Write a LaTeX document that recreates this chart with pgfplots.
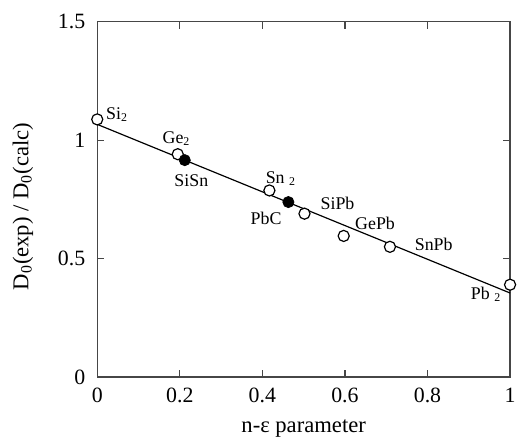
\documentclass[border=0pt]{standalone}
\usepackage{fontspec}
\setmainfont{Liberation Serif}
\usepackage{pgfplots}
\pgfplotsset{compat=1.18}
\definecolor{axisgray}{RGB}{70,70,70}

\begin{document}
\begin{tikzpicture}
\begin{axis}[
  scale only axis,
  width=208pt, height=179pt,
  xmin=0, xmax=1, ymin=0, ymax=1.5,
  xtick={0,0.2,0.4,0.6,0.8,1},
  ytick={0,0.5,1,1.5},
  xticklabels={0,0.2,0.4,0.6,0.8,1},
  yticklabels={0,0.5,1,1.5},
  tick align=inside,
  major tick length=3.5pt,
  axis line style={axisgray, line width=0.6pt},
  tick style={axisgray, line width=0.6pt},
  tick label style={font=\fontsize{11}{13}\selectfont},
  yticklabel style={xshift=-2.5pt},
  xticklabel style={yshift=-2pt},
  xlabel={n-ε parameter},
  ylabel={D\textsubscript{0}(exp) / D\textsubscript{0}(calc)},
  label style={font=\fontsize{11.4}{13}\selectfont},
  x label style={at={(axis description cs:0.5,0)}, anchor=center, yshift=-26pt},
  y label style={at={(axis description cs:-0.18,0.48)}, anchor=center},
  clip=false,
]
\addplot[black, line width=0.6pt] coordinates {(0,1.067) (1,0.355)};
\addplot[only marks, mark=*, mark size=2.8pt, mark options={draw=black, fill=white, line width=0.6pt}]
  coordinates {
  (0,1.088) (0.195,0.941) (0.417,0.788) (0.502,0.690)
  (0.597,0.596) (0.709,0.550) (1.0,0.390)
};
\addplot[only marks, mark=*, mark size=2.8pt, mark options={draw=black, fill=black}]
  coordinates {(0.212,0.916) (0.463,0.739)};

\begin{scope}[every node/.style={font=\fontsize{9}{11}\selectfont, inner sep=0pt}]
\node at (axis cs:0.048,1.110) {Si\textsubscript{2}};
\node at (axis cs:0.192,1.006) {Ge\textsubscript{2}};
\node at (axis cs:0.228,0.830) {SiSn};
\node at (axis cs:0.445,0.838) {Sn \textsubscript{2}};
\node at (axis cs:0.409,0.670) {PbC};
\node at (axis cs:0.582,0.733) {SiPb};
\node at (axis cs:0.673,0.649) {GePb};
\node at (axis cs:0.815,0.561) {SnPb};
\node at (axis cs:0.942,0.348) {Pb \textsubscript{2}};
\end{scope}
\end{axis}
\pgfresetboundingbox
\path[use as bounding box] ([xshift=-49pt,yshift=-31.2pt]current axis.south west) rectangle ([xshift=4pt,yshift=11pt]current axis.north east);
\end{tikzpicture}
\end{document}
